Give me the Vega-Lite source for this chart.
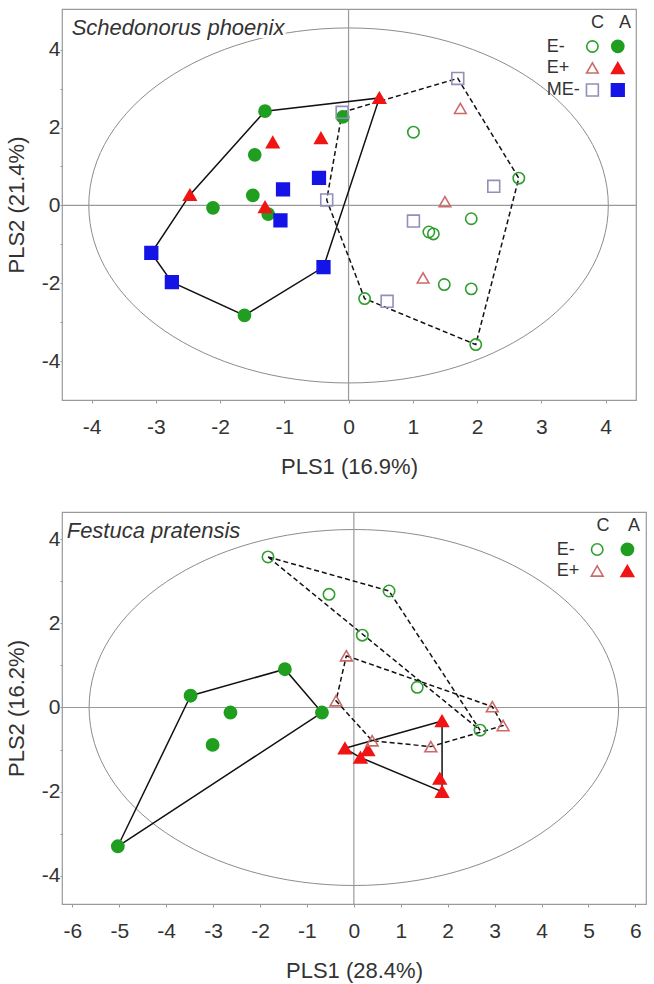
{
  "$schema": "https://vega.github.io/schema/vega-lite/v6.json",
  "background": "white",
  "padding": {"left": 4, "top": 7, "right": 7, "bottom": 5},
  "spacing": 32,
  "config": {
    "font": "Liberation Sans",
    "view": {"stroke": "#9a9a9a", "strokeWidth": 1.2},
    "axis": {"domain": false, "grid": false, "tickColor": "#999", "tickSize": 3, "labelFontSize": 21, "labelColor": "#333", "titleFontSize": 22, "titleFontWeight": "normal", "titleColor": "#333", "labelOverlap": false, "labelFlush": false},
    "axisX": {"labelPadding": 13, "titlePadding": 19},
    "axisY": {"labelPadding": 0, "tickSize": 2, "titlePadding": 13},
    "legend": {"orient": "top-right", "offset": 5, "labelFontSize": 18, "titleFontSize": 18, "titleFontWeight": "normal", "labelColor": "#333", "titleColor": "#333", "titleAnchor": "end", "titleAlign": "right", "titlePadding": 5, "rowPadding": 3, "symbolStrokeWidth": 1.6, "symbolOpacity": 1}
  },
  "datasets": {
    "origin": [{"x": 0, "y": 0}],
    "title_top": [{"label": "Schedonorus phoenix"}],
    "title_bot": [{"label": "Festuca pratensis"}],
    "top_pts": [
      {"x": -1.30, "y": 2.42, "key": "E- A"}, {"x": -0.09, "y": 2.27, "key": "E- A"}, {"x": -1.46, "y": 1.30, "key": "E- A"}, {"x": -1.49, "y": 0.26, "key": "E- A"}, {"x": -2.11, "y": -0.06, "key": "E- A"}, {"x": -1.25, "y": -0.22, "key": "E- A"}, {"x": -1.62, "y": -2.82, "key": "E- A"},
      {"x": 0.48, "y": 2.76, "key": "E+ A"}, {"x": -1.18, "y": 1.62, "key": "E+ A"}, {"x": -0.43, "y": 1.73, "key": "E+ A"}, {"x": -2.47, "y": 0.27, "key": "E+ A"}, {"x": -1.30, "y": -0.04, "key": "E+ A"},
      {"x": -0.46, "y": 0.71, "key": "ME- A"}, {"x": -1.02, "y": 0.41, "key": "ME- A"}, {"x": -1.06, "y": -0.38, "key": "ME- A"}, {"x": -3.07, "y": -1.22, "key": "ME- A"}, {"x": -2.75, "y": -1.97, "key": "ME- A"}, {"x": -0.39, "y": -1.58, "key": "ME- A"},
      {"x": 1.01, "y": 1.88, "key": "E- C"}, {"x": 2.65, "y": 0.70, "key": "E- C"}, {"x": 1.91, "y": -0.34, "key": "E- C"}, {"x": 1.25, "y": -0.68, "key": "E- C"}, {"x": 1.32, "y": -0.73, "key": "E- C"}, {"x": 1.49, "y": -2.03, "key": "E- C"}, {"x": 1.91, "y": -2.14, "key": "E- C"}, {"x": 0.25, "y": -2.39, "key": "E- C"}, {"x": 1.98, "y": -3.57, "key": "E- C"},
      {"x": 1.74, "y": 2.49, "key": "E+ C"}, {"x": 1.50, "y": 0.10, "key": "E+ C"}, {"x": 1.16, "y": -1.86, "key": "E+ C"},
      {"x": -0.10, "y": 2.39, "key": "ME- C"}, {"x": 1.70, "y": 3.26, "key": "ME- C"}, {"x": -0.34, "y": 0.14, "key": "ME- C"}, {"x": 2.26, "y": 0.49, "key": "ME- C"}, {"x": 1.01, "y": -0.40, "key": "ME- C"}, {"x": 0.60, "y": -2.46, "key": "ME- C"}
    ],
    "top_hull": [
      {"poly": "A", "g": "A", "i": 0, "x": -1.30, "y": 2.42}, {"poly": "A", "g": "A", "i": 1, "x": 0.48, "y": 2.76}, {"poly": "A", "g": "A", "i": 2, "x": -0.39, "y": -1.58}, {"poly": "A", "g": "A", "i": 3, "x": -1.62, "y": -2.82}, {"poly": "A", "g": "A", "i": 4, "x": -2.75, "y": -1.97}, {"poly": "A", "g": "A", "i": 5, "x": -3.07, "y": -1.22}, {"poly": "A", "g": "A", "i": 6, "x": -2.47, "y": 0.27}, {"poly": "A", "g": "A", "i": 7, "x": -1.30, "y": 2.42},
      {"poly": "C", "g": "C", "i": 0, "x": -0.10, "y": 2.39}, {"poly": "C", "g": "C", "i": 1, "x": 1.70, "y": 3.26}, {"poly": "C", "g": "C", "i": 2, "x": 2.65, "y": 0.70}, {"poly": "C", "g": "C", "i": 3, "x": 1.98, "y": -3.57}, {"poly": "C", "g": "C", "i": 4, "x": 0.25, "y": -2.39}, {"poly": "C", "g": "C", "i": 5, "x": -0.34, "y": 0.14}, {"poly": "C", "g": "C", "i": 6, "x": -0.10, "y": 2.39}
    ],
    "bot_pts": [
      {"x": -1.47, "y": 0.91, "key": "E- A"}, {"x": -3.48, "y": 0.28, "key": "E- A"}, {"x": -2.63, "y": -0.12, "key": "E- A"}, {"x": -0.68, "y": -0.12, "key": "E- A"}, {"x": -3.01, "y": -0.89, "key": "E- A"}, {"x": -5.03, "y": -3.30, "key": "E- A"},
      {"x": -0.19, "y": -0.97, "key": "E+ A"}, {"x": 0.30, "y": -1.01, "key": "E+ A"}, {"x": 0.14, "y": -1.19, "key": "E+ A"}, {"x": 1.88, "y": -0.32, "key": "E+ A"}, {"x": 1.83, "y": -1.69, "key": "E+ A"}, {"x": 1.88, "y": -2.00, "key": "E+ A"},
      {"x": -1.83, "y": 3.58, "key": "E- C"}, {"x": -0.53, "y": 2.69, "key": "E- C"}, {"x": 0.18, "y": 1.72, "key": "E- C"}, {"x": 0.75, "y": 2.77, "key": "E- C"}, {"x": 1.35, "y": 0.48, "key": "E- C"}, {"x": 2.69, "y": -0.54, "key": "E- C"},
      {"x": -0.16, "y": 1.23, "key": "E+ C"}, {"x": -0.38, "y": 0.16, "key": "E+ C"}, {"x": 0.39, "y": -0.79, "key": "E+ C"}, {"x": 1.64, "y": -0.93, "key": "E+ C"}, {"x": 2.95, "y": 0.02, "key": "E+ C"}, {"x": 3.18, "y": -0.43, "key": "E+ C"}
    ],
    "bot_hull": [
      {"poly": "EA", "g": "A", "i": 0, "x": -3.48, "y": 0.28}, {"poly": "EA", "g": "A", "i": 1, "x": -1.47, "y": 0.91}, {"poly": "EA", "g": "A", "i": 2, "x": -0.68, "y": -0.12}, {"poly": "EA", "g": "A", "i": 3, "x": -5.03, "y": -3.30}, {"poly": "EA", "g": "A", "i": 4, "x": -3.48, "y": 0.28},
      {"poly": "PA", "g": "A", "i": 0, "x": -0.19, "y": -0.97}, {"poly": "PA", "g": "A", "i": 1, "x": 1.88, "y": -0.32}, {"poly": "PA", "g": "A", "i": 2, "x": 1.88, "y": -2.00}, {"poly": "PA", "g": "A", "i": 3, "x": 0.14, "y": -1.19}, {"poly": "PA", "g": "A", "i": 4, "x": -0.19, "y": -0.97},
      {"poly": "EC", "g": "C", "i": 0, "x": -1.83, "y": 3.58}, {"poly": "EC", "g": "C", "i": 1, "x": 0.75, "y": 2.77}, {"poly": "EC", "g": "C", "i": 2, "x": 2.69, "y": -0.54}, {"poly": "EC", "g": "C", "i": 3, "x": -1.83, "y": 3.58},
      {"poly": "PC", "g": "C", "i": 0, "x": -0.16, "y": 1.23}, {"poly": "PC", "g": "C", "i": 1, "x": 2.95, "y": 0.02}, {"poly": "PC", "g": "C", "i": 2, "x": 3.18, "y": -0.43}, {"poly": "PC", "g": "C", "i": 3, "x": 1.64, "y": -0.93}, {"poly": "PC", "g": "C", "i": 4, "x": 0.39, "y": -0.79}, {"poly": "PC", "g": "C", "i": 5, "x": -0.38, "y": 0.16}, {"poly": "PC", "g": "C", "i": 6, "x": -0.16, "y": 1.23}
    ]
  },
  "vconcat": [
    {
      "width": 574,
      "height": 391,
      "layer": [
        {
          "data": {"name": "origin"},
          "mark": {"type": "point", "shape": "M-1,0C-1,-0.37742,-0.5523,-0.6834,0,-0.6834C0.5523,-0.6834,1,-0.37742,1,0C1,0.37742,0.5523,0.6834,0,0.6834C-0.5523,0.6834,-1,0.37742,-1,0Z", "size": 269880, "filled": false, "color": "#8c8c8c", "strokeWidth": 1, "opacity": 1},
          "encoding": {
            "x": {"field": "x", "type": "quantitative", "scale": {"domain": [-4.46, 4.474], "nice": false, "zero": false},
              "axis": {"title": "PLS1 (16.9%)", "values": [-4, -3.5, -3, -2.5, -2, -1.5, -1, -0.5, 0, 0.5, 1, 1.5, 2, 2.5, 3, 3.5, 4], "labelExpr": "datum.value % 1 == 0 ? '' + datum.value : ''"}},
            "y": {"field": "y", "type": "quantitative", "scale": {"domain": [-4.992, 5.041], "nice": false, "zero": false},
              "axis": {"title": "PLS2 (21.4%)", "values": [-4, -3, -2, -1, 0, 1, 2, 3, 4], "labelExpr": "datum.value % 2 == 0 ? '' + datum.value : ''"}}
          }
        },
        {"data": {"name": "origin"}, "mark": {"type": "rule", "color": "#9a9a9a", "strokeWidth": 1.2}, "encoding": {"x": {"field": "x", "type": "quantitative"}}},
        {"data": {"name": "origin"}, "mark": {"type": "rule", "color": "#9a9a9a", "strokeWidth": 1.2}, "encoding": {"y": {"field": "y", "type": "quantitative"}}},
        {
          "data": {"name": "title_top"},
          "mark": {"type": "text", "align": "left", "baseline": "alphabetic", "fontSize": 22, "fontStyle": "italic", "fill": "white", "stroke": "white", "strokeWidth": 6},
          "encoding": {"x": {"datum": -4.31, "type": "quantitative"}, "y": {"datum": 4.385, "type": "quantitative"}, "text": {"field": "label"}}
        },
        {
          "data": {"name": "title_top"},
          "mark": {"type": "text", "align": "left", "baseline": "alphabetic", "fontSize": 22, "fontStyle": "italic", "color": "#333"},
          "encoding": {"x": {"datum": -4.31, "type": "quantitative"}, "y": {"datum": 4.385, "type": "quantitative"}, "text": {"field": "label"}}
        },
        {
          "data": {"name": "top_hull"},
          "transform": [{"filter": "datum.g == 'A'"}],
          "mark": {"type": "line", "color": "#111", "strokeWidth": 1.5},
          "encoding": {"x": {"field": "x", "type": "quantitative"}, "y": {"field": "y", "type": "quantitative"}, "detail": {"field": "poly"}, "order": {"field": "i"}}
        },
        {
          "data": {"name": "top_hull"},
          "transform": [{"filter": "datum.g == 'C'"}],
          "mark": {"type": "line", "color": "#111", "strokeWidth": 1.5, "strokeDash": [5, 3]},
          "encoding": {"x": {"field": "x", "type": "quantitative"}, "y": {"field": "y", "type": "quantitative"}, "detail": {"field": "poly"}, "order": {"field": "i"}}
        },
        {
          "data": {"name": "top_pts"},
          "mark": {"type": "point", "strokeWidth": 1.6, "opacity": 1},
          "encoding": {
            "x": {"field": "x", "type": "quantitative"},
            "y": {"field": "y", "type": "quantitative"},
            "shape": {"field": "key", "type": "nominal",
              "scale": {"domain": ["E-", "E+", "ME-", "E- C", "E+ C", "ME- C", "E- A", "E+ A", "ME- A"], "range": ["circle", "triangle-up", "square", "circle", "triangle-up", "square", "circle", "triangle-up", "square"]},
              "legend": {"title": "C\u00a0\u00a0\u00a0A\u00a0\u00a0\u00a0\u00a0", "columns": 3, "columnPadding": 2.4, "labelOffset": 3.7, "labelExpr": "indexof(datum.label, ' ') < 0 ? datum.label : ''"}},
            "fill": {"field": "key", "type": "nominal",
              "scale": {"domain": ["E-", "E+", "ME-", "E- C", "E+ C", "ME- C", "E- A", "E+ A", "ME- A"], "range": ["transparent", "transparent", "transparent", "transparent", "transparent", "transparent", "#1f9e1f", "#f01414", "#1414e6"]}},
            "stroke": {"field": "key", "type": "nominal",
              "scale": {"domain": ["E-", "E+", "ME-", "E- C", "E+ C", "ME- C", "E- A", "E+ A", "ME- A"], "range": ["transparent", "transparent", "transparent", "#2e9e2e", "#cc6a6a", "#9090b8", "#1f9e1f", "#f01414", "#1414e6"]}},
            "size": {"field": "key", "type": "nominal",
              "scale": {"domain": ["E-", "E+", "ME-", "E- C", "E+ C", "ME- C", "E- A", "E+ A", "ME- A"], "range": [110, 160, 100, 110, 160, 100, 110, 160, 100]}}
          }
        }
      ]
    },
    {
      "width": 584,
      "height": 392,
      "layer": [
        {
          "data": {"name": "origin"},
          "mark": {"type": "point", "shape": "M-1,0C-1,-0.3713,-0.5523,-0.6723,0,-0.6723C0.5523,-0.6723,1,-0.3713,1,0C1,0.3713,0.5523,0.6723,0,0.6723C-0.5523,0.6723,-1,0.3713,-1,0Z", "size": 280370, "filled": false, "color": "#8c8c8c", "strokeWidth": 1, "opacity": 1},
          "encoding": {
            "x": {"field": "x", "type": "quantitative", "scale": {"domain": [-6.22, 6.226], "nice": false, "zero": false},
              "axis": {"title": "PLS1 (28.4%)", "values": [-6, -5.5, -5, -4.5, -4, -3.5, -3, -2.5, -2, -1.5, -1, -0.5, 0, 0.5, 1, 1.5, 2, 2.5, 3, 3.5, 4, 4.5, 5, 5.5, 6], "labelExpr": "datum.value % 1 == 0 ? '' + datum.value : ''"}},
            "y": {"field": "y", "type": "quantitative", "scale": {"domain": [-4.672, 4.648], "nice": false, "zero": false},
              "axis": {"title": "PLS2 (16.2%)", "values": [-4, -3, -2, -1, 0, 1, 2, 3, 4], "labelExpr": "datum.value % 2 == 0 ? '' + datum.value : ''"}}
          }
        },
        {"data": {"name": "origin"}, "mark": {"type": "rule", "color": "#9a9a9a", "strokeWidth": 1.2}, "encoding": {"x": {"field": "x", "type": "quantitative"}}},
        {"data": {"name": "origin"}, "mark": {"type": "rule", "color": "#9a9a9a", "strokeWidth": 1.2}, "encoding": {"y": {"field": "y", "type": "quantitative"}}},
        {
          "data": {"name": "title_bot"},
          "mark": {"type": "text", "align": "left", "baseline": "alphabetic", "fontSize": 22, "fontStyle": "italic", "fill": "white", "stroke": "white", "strokeWidth": 6},
          "encoding": {"x": {"datum": -6.12, "type": "quantitative"}, "y": {"datum": 4.04, "type": "quantitative"}, "text": {"field": "label"}}
        },
        {
          "data": {"name": "title_bot"},
          "mark": {"type": "text", "align": "left", "baseline": "alphabetic", "fontSize": 22, "fontStyle": "italic", "color": "#333"},
          "encoding": {"x": {"datum": -6.12, "type": "quantitative"}, "y": {"datum": 4.04, "type": "quantitative"}, "text": {"field": "label"}}
        },
        {
          "data": {"name": "bot_hull"},
          "transform": [{"filter": "datum.g == 'A'"}],
          "mark": {"type": "line", "color": "#111", "strokeWidth": 1.5},
          "encoding": {"x": {"field": "x", "type": "quantitative"}, "y": {"field": "y", "type": "quantitative"}, "detail": {"field": "poly"}, "order": {"field": "i"}}
        },
        {
          "data": {"name": "bot_hull"},
          "transform": [{"filter": "datum.g == 'C'"}],
          "mark": {"type": "line", "color": "#111", "strokeWidth": 1.5, "strokeDash": [5, 3]},
          "encoding": {"x": {"field": "x", "type": "quantitative"}, "y": {"field": "y", "type": "quantitative"}, "detail": {"field": "poly"}, "order": {"field": "i"}}
        },
        {
          "data": {"name": "bot_pts"},
          "mark": {"type": "point", "strokeWidth": 1.6, "opacity": 1},
          "encoding": {
            "x": {"field": "x", "type": "quantitative"},
            "y": {"field": "y", "type": "quantitative"},
            "shape": {"field": "key", "type": "nominal",
              "scale": {"domain": ["E-", "E+", "E- C", "E+ C", "E- A", "E+ A"], "range": ["circle", "triangle-up", "circle", "triangle-up", "circle", "triangle-up"]},
              "legend": {"title": "C\u00a0\u00a0\u00a0\u2009A\u00a0\u00a0\u00a0\u00a0\u2009", "columns": 3, "columnPadding": 7.2, "labelOffset": 3.8, "labelExpr": "indexof(datum.label, ' ') < 0 ? datum.label : ''"}},
            "fill": {"field": "key", "type": "nominal",
              "scale": {"domain": ["E-", "E+", "E- C", "E+ C", "E- A", "E+ A"], "range": ["transparent", "transparent", "transparent", "transparent", "#1f9e1f", "#f01414"]}},
            "stroke": {"field": "key", "type": "nominal",
              "scale": {"domain": ["E-", "E+", "E- C", "E+ C", "E- A", "E+ A"], "range": ["transparent", "transparent", "#2e9e2e", "#cc6a6a", "#1f9e1f", "#f01414"]}},
            "size": {"field": "key", "type": "nominal",
              "scale": {"domain": ["E-", "E+", "E- C", "E+ C", "E- A", "E+ A"], "range": [110, 160, 110, 160, 110, 160]}}
          }
        }
      ]
    }
  ],
  "resolve": {
    "scale": {"x": "independent", "y": "independent", "shape": "independent", "fill": "independent", "stroke": "independent", "size": "independent"},
    "legend": {"shape": "independent", "fill": "independent", "stroke": "independent", "size": "independent"}
  }
}
